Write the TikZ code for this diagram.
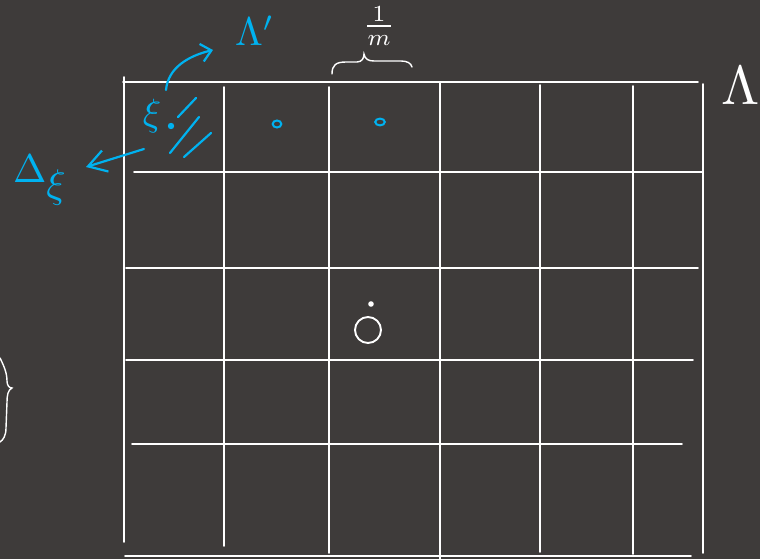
\documentclass[tikz,border=0pt]{standalone}
\usepackage{amsmath}
\usetikzlibrary{arrows.meta}
\definecolor{board}{RGB}{62,59,58}
\definecolor{chalkblue}{RGB}{0,178,240}
\tikzset{
  gridline/.style={white, line width=1.6pt},
  bluestroke/.style={chalkblue, line width=2.2pt, line cap=round},
  bluearrow/.style={bluestroke, -{Straight Barb[length=10pt,width=18pt]}},
  chalk/.style={inner sep=0pt, outer sep=0pt},
}

\begin{document}
\begin{tikzpicture}[x=1pt, y=-1pt, line cap=round]
  \fill[board] (0,0) rectangle (760,559);
  \useasboundingbox (0,0) rectangle (760,559);
  % the lattice: rows
  \draw[gridline] (123,82) -- (698,82);
  \draw[gridline] (134,172) -- (703,172);
  \draw[gridline] (126,268) -- (698,268);
  \draw[gridline] (126,360) -- (693,360);
  \draw[gridline] (132,444) -- (682,444);
  \draw[gridline] (125,556) -- (691,556);
  % the lattice: columns
  \draw[gridline] (124,77) -- (124,542);
  \draw[gridline] (224,87) -- (224,546);
  \draw[gridline] (329,87) -- (329,553);
  \draw[gridline] (440,82) -- (440,559);
  \draw[gridline] (540,85) -- (540,552);
  \draw[gridline] (633,86) -- (633,554);
  \draw[gridline] (703,84) -- (703,553);
  % lattice spacing 1/m
  \node[chalk, white, scale=3.3] (spacing) at (379,26) {$\frac{1}{m}$};
  \draw[gridline, line width=1.4pt] (332,74) .. controls (332,65) and (336,62) .. (346,62) -- (357,62)
    .. controls (362,62) and (364,58) .. (364,54) .. controls (365,59) and (368,61) .. (374,61)
    -- (401,61) .. controls (407,61) and (411,63) .. (412,67);
  % the big box and its label
  \node[chalk, white, scale=5.5, anchor=base west] (lam) at (721,105) {$\Lambda$};
  % origin
  \fill[white] (371,304) circle (2.8);
  \draw[gridline, line width=1.9pt] (368,330) circle (13);
  % brace cut at the left edge
  \draw[gridline, line width=1.4pt] (0,358) .. controls (4,366) and (7,373) .. (7,381)
    .. controls (7,385) and (9,388) .. (12,388) .. controls (8,390) and (7,395) .. (7,402)
    -- (6,428) .. controls (6,436) and (3,440) .. (0,442);
  % the cell at xi and its neighbours
  \node[chalk, chalkblue, scale=3.8] (xi) at (152,116) {$\xi$};
  \fill[chalkblue] (171,126) circle (3.2);
  \draw[bluestroke, line width=2pt] (277,124) ellipse (4.3 and 3.5);
  \draw[bluestroke, line width=2pt] (380,122) ellipse (4.8 and 3.4);
  \draw[bluestroke] (178,117) -- (196,98);
  \draw[bluestroke] (170,153) -- (199,117);
  \draw[bluestroke] (184,157) -- (211,133);
  % the sublattice Lambda'
  \node[chalk, chalkblue, scale=4, anchor=base west] (lamp) at (235,46) {$\Lambda'$};
  \coordinate (cellfrom) at (166,90);
  \coordinate (lamptip) at (213,50);
  \draw[bluearrow] (cellfrom) .. controls (168,68) and (188,56) .. (lamptip);
  % the cell volume
  \node[chalk, chalkblue, scale=4, anchor=base west] (dxi) at (13,182) {$\Delta\lower4pt\hbox{$\xi$}$};
  \coordinate (hatchfrom) at (144,149);
  \coordinate (dxitip) at (86,167);
  \draw[bluearrow, -{Straight Barb[length=18pt,width=22pt]}] (hatchfrom) -- (dxitip);
\end{tikzpicture}
\end{document}
